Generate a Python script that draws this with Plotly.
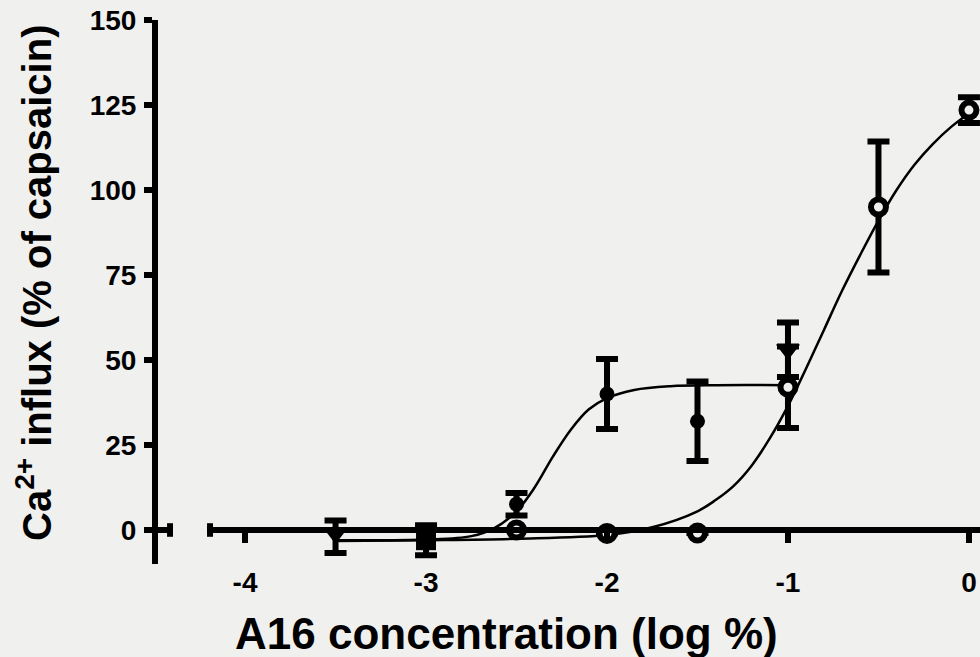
import plotly.graph_objects as go

# ---------------- data ----------------
# filled circles
fc_x = [-2.5, -2.0, -1.5]
fc_y = [7.6, 40.0, 32.0]
fc_err = [3.3, 10.3, 11.7]

# open circles
oc_x = [-2.5, -2.0, -1.5, -1.0, -0.5, 0.0]
oc_y = [0.0, -1.0, -0.9, 42.0, 95.0, 123.5]
oc_err = [0.0, 0.0, 0.0, 12.0, 19.3, 3.8]

# filled inverted triangles
tr_x = [-3.5, -1.0]
tr_y = [-1.0, 53.0]
tr_err_plus = [3.8, 8.0]
tr_err_minus = [5.8, 8.0]

# filled squares
sq_x = [-3.0]
sq_y = [-3.0]
sq_err = [4.4]

# fitted curve for filled circles
fit1_x = [-3.5, -3.0, -2.75, -2.625, -2.5, -2.4, -2.3, -2.2, -2.1, -2.0, -1.85, -1.65, -1.4, -1.0]
fit1_y = [-3.0, -2.8, -1.8, 0.5, 5.5, 12.5, 21.5, 29.5, 35.5, 38.8, 41.2, 42.3, 42.6, 42.6]

# fitted curve for open circles
fit2_x = [-3.5, -3.0, -2.5, -2.0, -1.75, -1.5, -1.4, -1.3, -1.2, -1.1, -1.0, -0.9, -0.8, -0.7, -0.6, -0.5, -0.4, -0.3, -0.2, -0.1, 0.0]
fit2_y = [-3.2, -3.0, -2.6, -1.5, 0.8, 5.5, 8.8, 13.0, 19.0, 27.0, 36.5, 47.5, 59.0, 70.5, 81.0, 91.0, 100.0, 107.5, 113.5, 118.5, 122.5]

x_tickvals = [-4, -3, -2, -1, 0]
x_ticktext = ["-4", "-3", "-2", "-1", "0"]
y_tickvals = [0, 25, 50, 75, 100, 125, 150]
y_ticktext = ["0", "25", "50", "75", "100", "125", "150"]

BG = "#f0f0ef"
FONT = "Liberation Sans, Arial, sans-serif"

fig = go.Figure()

fig.add_trace(go.Scatter(x=fit1_x, y=fit1_y, mode="lines", line=dict(color="black", width=2.5, shape="spline", smoothing=1.0), hoverinfo="skip", showlegend=False))
fig.add_trace(go.Scatter(x=fit2_x, y=fit2_y, mode="lines", line=dict(color="black", width=2.5, shape="spline", smoothing=1.0), hoverinfo="skip", showlegend=False))

eb = dict(type="data", color="black", thickness=6, width=11)

fig.add_trace(go.Scatter(x=sq_x, y=sq_y, mode="markers",
                         marker=dict(symbol="square", size=20, color="black"),
                         error_y=dict(array=sq_err, **eb), showlegend=False))
fig.add_trace(go.Scatter(x=tr_x, y=tr_y, mode="markers",
                         marker=dict(symbol="triangle-down", size=21, color="black"),
                         error_y=dict(array=tr_err_plus, arrayminus=tr_err_minus, symmetric=False, **eb), showlegend=False))
fig.add_trace(go.Scatter(x=fc_x, y=fc_y, mode="markers",
                         marker=dict(symbol="circle", size=15, color="black"),
                         error_y=dict(array=fc_err, **eb), showlegend=False))
fig.add_trace(go.Scatter(x=oc_x, y=oc_y, mode="markers",
                         marker=dict(symbol="circle", size=15, color=BG, line=dict(color="black", width=6)),
                         error_y=dict(array=oc_err, **eb), showlegend=False))

# broken x-axis line drawn at y = 0
shapes = [
    dict(type="line", xref="x", yref="y", x0=-4.481, x1=-4.40, y0=0, y1=0, line=dict(color="black", width=6), layer="above"),
    dict(type="rect", xref="x", yref="y", x0=-4.431, x1=-4.398, y0=-2.0, y1=2.0, line=dict(width=0), fillcolor="black", layer="above"),
    dict(type="line", xref="x", yref="y", x0=-4.21, x1=0.061, y0=0, y1=0, line=dict(color="black", width=6), layer="above"),
    dict(type="rect", xref="x", yref="y", x0=-4.21, x1=-4.177, y0=-2.0, y1=2.0, line=dict(width=0), fillcolor="black", layer="above"),
]

fig.update_layout(
    width=980, height=657,
    margin=dict(l=158, r=0, t=20, b=93),
    paper_bgcolor=BG, plot_bgcolor=BG,
    font=dict(family=FONT, color="black"),
    shapes=shapes,
    xaxis=dict(range=[-4.481, 0.061], anchor="free", position=0.0625,
               showline=False, showgrid=False, zeroline=False,
               tickvals=x_tickvals, ticktext=x_ticktext,
               ticks="outside", ticklen=12, tickwidth=6, tickcolor="black",
               ticklabelstandoff=15,
               tickfont=dict(family=FONT, size=28, weight="bold", color="black")),
    yaxis=dict(range=[-10, 150], showline=True, linewidth=6, linecolor="black",
               showgrid=False, zeroline=False,
               tickvals=y_tickvals, ticktext=y_ticktext,
               ticks="outside", ticklen=8, tickwidth=6, tickcolor="black",
               ticklabelstandoff=2,
               tickfont=dict(family=FONT, size=28, weight="bold", color="black")),
    annotations=[
        dict(text="A16 concentration (log %)", xref="paper", yref="paper",
             x=(506 - 158) / 822, y=(564 - 633) / 544, xanchor="center", yanchor="middle",
             showarrow=False, font=dict(family=FONT, size=44, weight="bold", color="black")),
        dict(text="Ca<sup>2+</sup> influx (% of capsaicin)", xref="paper", yref="paper",
             x=(34 - 158) / 822, y=(564 - 283) / 544, xanchor="center", yanchor="middle",
             textangle=-90, showarrow=False,
             font=dict(family=FONT, size=40, weight="bold", color="black")),
    ],
)

fig.write_html("out.html", config={"displayModeBar": False},
               post_script="document.body.style.margin='0px';")
